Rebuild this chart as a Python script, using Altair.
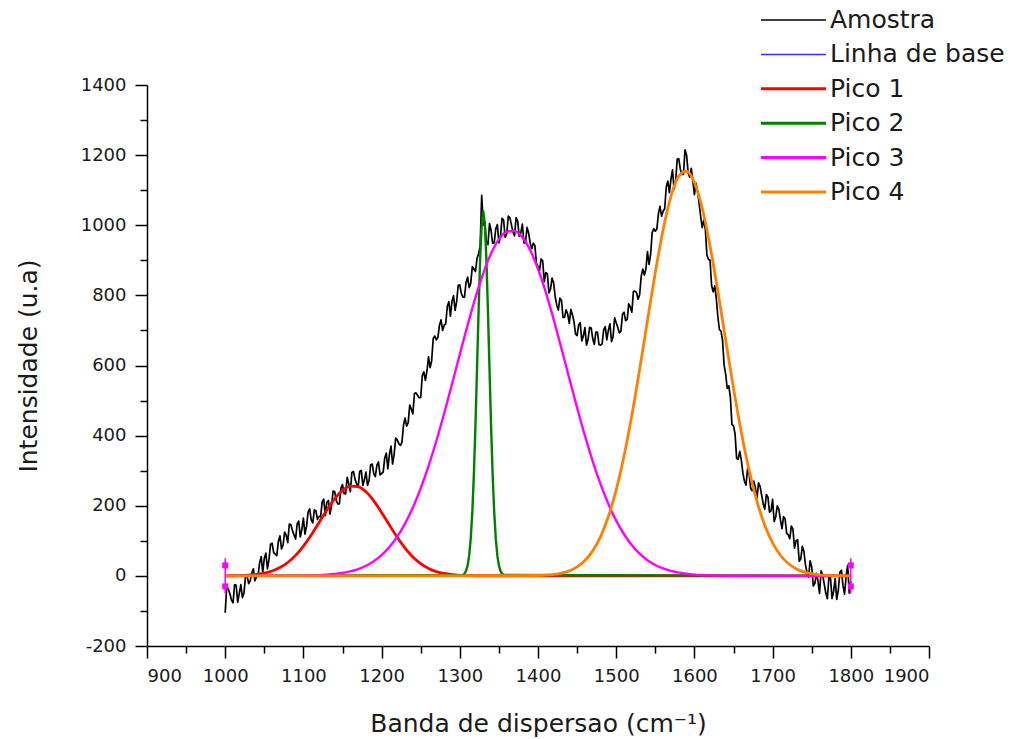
import altair as alt
import pandas as pd

# ---------------------------------------------------------------------------
# Raman spectrum (Amostra), 1000-1800 cm-1
# readings at 1000, 1004, ... and the interleaved ones at 1002, 1006, ...
# ---------------------------------------------------------------------------
wavenumber_a = list(range(1000, 1801, 4))
amostra_a = [
    -105, -38, -69, -25, -75, -25, -49, 0, -14, 20,
    -3, 37, 10, 65, 47, 93, 62, 99, 77, 125,
    95, 146, 117, 148, 111, 165, 141, 191, 151, 185,
    170, 211, 172, 215, 201, 240, 205, 250, 235, 281,
    240, 298, 263, 298, 258, 296, 272, 319, 283, 325,
    292, 336, 305, 370, 346, 388, 372, 430, 427, 487,
    462, 522, 508, 571, 558, 625, 613, 684, 680, 730,
    715, 768, 741, 799, 783, 830, 795, 837, 822, 882,
    868, 918, 1085, 1010, 945, 985, 950, 1002, 968, 1015,
    975, 1022, 981, 1022, 968, 1003, 950, 978, 933, 942,
    882, 904, 839, 861, 818, 835, 772, 792, 737, 759,
    720, 745, 690, 716, 670, 708, 674, 707, 660, 695,
    658, 702, 673, 719, 682, 722, 693, 746, 728, 776,
    752, 812, 789, 855, 858, 925, 916, 990, 989, 1054,
    1040, 1109, 1093, 1158, 1124, 1190, 1145, 1215, 1150, 1162,
    1087, 1097, 1025, 1015, 915, 900, 810, 791, 702, 672,
    575, 542, 432, 405, 333, 330, 270, 305, 249, 270,
    220, 255, 205, 232, 182, 218, 168, 190, 135, 162,
    117, 142, 79, 103, 48, 70, 9, 43, -29, 7,
    -50, 3, -49, -5, -65, -8, -41, 16, -52, 30,
    -15,
]
wavenumber_b = list(range(1002, 1800, 4))
amostra_b = [
    -29, -51, -77, -27, -50, -62, 0, -22, 8, -14,
    0, 55, 50, 20, 90, 66, 58, 114, 88, 116,
    148, 129, 105, 156, 132, 119, 182, 160, 188, 161,
    168, 219, 210, 176, 242, 215, 205, 260, 234, 263,
    295, 276, 252, 301, 274, 258, 317, 291, 316, 288,
    296, 350, 346, 319, 393, 377, 381, 450, 437, 476,
    520, 515, 508, 582, 584, 594, 677, 673, 715, 700,
    719, 782, 783, 757, 829, 805, 795, 852, 835, 875,
    905, 940, 1000, 950, 1005, 948, 990, 950, 1020, 965,
    1026, 1001, 970, 1012, 978, 950, 994, 949, 949, 891,
    871, 898, 865, 807, 849, 796, 758, 786, 738, 746,
    760, 725, 685, 722, 684, 658, 709, 676, 695, 660,
    662, 711, 701, 668, 736, 709, 697, 752, 731, 767,
    811, 808, 802, 875, 875, 888, 979, 983, 1033, 1026,
    1047, 1126, 1131, 1103, 1188, 1160, 1145, 1200, 1137, 1127,
    1120, 1063, 993, 988, 903, 828, 827, 739, 698, 601,
    535, 510, 428, 335, 355, 293, 259, 291, 243, 251,
    265, 230, 190, 225, 185, 155, 200, 160, 169, 121,
    106, 133, 100, 42, 84, 32, -4, 26, -22, -14,
    14, -23, -65, -5, -44, -67, 10, -28, -1, -49,
]

# Baseline (Linha de base)
base_x = [1000, 1800]
base_y = [0, 0]

# Fitted peaks
pico1_x = list(range(1000, 1321, 10)) + [1800]
pico1_y = [
    0.2, 0.4, 0.9, 2.0, 4.0, 7.7, 13.8, 23.6, 38.1, 58.5,
    84.9, 116.8, 152.3, 188.0, 219.9, 243.7, 255.9, 254.5, 239.8, 214.0,
    181.0, 145.0, 110.0, 79.1, 53.9, 34.8, 21.3, 12.3, 6.8, 3.5,
    1.7, 0.8, 0.4, 0.0,
]

pico2_x = [1000] + list(range(1304, 1357, 2)) + [1800]
pico2_y = [
    0.0,
    2.5, 6.2, 14.1, 29.7, 58.3, 106.8, 182.0, 289.0, 427.6, 588.7,
    755.0, 902.0, 1003.6, 1040.0, 1003.6, 902.0, 755.0, 588.7, 427.6, 289.0,
    182.0, 106.8, 58.3, 29.7, 14.1, 6.2, 2.5,
    0.0,
]

pico3_x = [1000] + list(range(1100, 1661, 10)) + [1800]
pico3_y = [
    0.0,
    0.7, 1.2, 2.0, 3.4, 5.4, 8.4, 13.0, 19.5, 28.9, 41.8,
    59.2, 82.2, 111.9, 149.2, 194.9, 249.5, 312.9, 384.6, 463.0, 546.4,
    631.6, 715.2, 793.7, 863.0, 919.3, 959.6, 981.4, 983.4, 965.5, 928.8,
    875.5, 808.4, 731.5, 648.5, 563.3, 479.5, 399.8, 326.7, 261.5, 205.2,
    157.6, 118.7, 87.6, 63.3, 44.8, 31.1, 21.2, 14.1, 9.2, 5.9,
    3.7, 2.3, 1.4, 0.8, 0.5, 0.3, 0.2,
    0.0,
]

pico4_x = [1000] + list(range(1400, 1801, 10))
pico4_y = [
    0.0,
    1.0, 2.0, 4.1, 7.8, 14.4, 25.6, 43.6, 71.3, 112.0, 169.2,
    245.4, 342.1, 458.1, 589.4, 728.6, 865.3, 987.4, 1082.6, 1140.3, 1154.0,
    1122.2, 1048.4, 941.1, 811.6, 672.6, 535.5, 409.6, 301.0, 212.5, 144.2,
    94.0, 58.8, 35.4, 20.5, 11.4, 6.1, 3.1, 1.5, 0.7, 0.3,
    0.1,
]

# Baseline anchor points with their error bars
anchor_x = [1000, 1800]
anchor_lo = [-50, -50]
anchor_hi = [50, 50]
anchor_pts = [-30, 30]

# Legend entries
series_names = ["Amostra", "Linha de base", "Pico 1", "Pico 2", "Pico 3", "Pico 4"]
series_colors = ["#000000", "#3333ff", "#ff0000", "#008000", "#ff00ff", "#ff8000"]
series_widths = [1.7, 1.5, 3.0, 3.0, 3.0, 3.0]

FONT = "DejaVu Sans"
TEXT_COLOR = "#1a1a1a"

x_scale = alt.Scale(domain=[900, 1900], nice=False, zero=False)
y_scale = alt.Scale(domain=[-200, 1400], nice=False, zero=False)

axis_common = dict(
    grid=False,
    domainColor="#000000",
    domainWidth=1.5,
    tickColor="#000000",
    tickWidth=1.5,
    labelFont=FONT,
    labelFontSize=18,
    labelColor=TEXT_COLOR,
    titleFont=FONT,
    titleFontSize=25,
    titleFontWeight="normal",
    titleColor=TEXT_COLOR,
)

x_axis_major = alt.Axis(
    orient="bottom",
    values=list(range(900, 1901, 100)),
    tickSize=12,
    labelPadding=9,
    labelExpr="'' + datum.value",
    title="Banda de dispersao (cm⁻¹)",
    titleY=85,
    titleBaseline="alphabetic",
    **axis_common,
)
x_axis_minor = alt.Axis(
    orient="bottom",
    values=list(range(950, 1900, 100)),
    tickSize=7,
    labels=False,
    domain=False,
    title=None,
    grid=False,
    tickColor="#000000",
    tickWidth=1.5,
)
y_axis_major = alt.Axis(
    orient="left",
    values=list(range(-200, 1401, 200)),
    tickSize=12,
    labelPadding=9,
    labelExpr="'' + datum.value",
    title="Intensidade (u.a)",
    titleX=-119,
    titleBaseline="middle",
    **axis_common,
)
y_axis_minor = alt.Axis(
    orient="left",
    values=list(range(-100, 1400, 200)),
    tickSize=7,
    labels=False,
    domain=False,
    title=None,
    grid=False,
    tickColor="#000000",
    tickWidth=1.5,
)


def line_layer(xs, ys, color, width, interp="linear", xaxis=None, yaxis=None):
    frame = pd.DataFrame({"x": xs, "y": ys})
    return alt.Chart(frame).mark_line(
        color=color, strokeWidth=width, interpolate=interp, strokeJoin="round"
    ).encode(
        x=alt.X("x:Q", scale=x_scale, axis=xaxis),
        y=alt.Y("y:Q", scale=y_scale, axis=yaxis),
    )


amostra_layer = line_layer(
    wavenumber_a + wavenumber_b, amostra_a + amostra_b, series_colors[0], 1.7,
    xaxis=x_axis_major, yaxis=y_axis_major,
)
base_layer = line_layer(base_x, base_y, series_colors[1], 1.4,
                        xaxis=x_axis_minor, yaxis=y_axis_minor)
pico1_layer = line_layer(pico1_x, pico1_y, series_colors[2], 2.8, "monotone")
pico2_layer = line_layer(pico2_x, pico2_y, series_colors[3], 2.4, "linear")
pico3_layer = line_layer(pico3_x, pico3_y, series_colors[4], 2.4, "monotone")
pico4_layer = line_layer(pico4_x, pico4_y, series_colors[5], 2.8, "monotone")

anchors = pd.DataFrame({"x": anchor_x, "lo": anchor_lo, "hi": anchor_hi})
anchor_bars = alt.Chart(anchors).mark_rule(color="#ff00ff", strokeWidth=1.5).encode(
    x=alt.X("x:Q", scale=x_scale, axis=None),
    y=alt.Y("lo:Q", scale=y_scale, axis=None),
    y2="hi:Q",
)
anchor_marks = pd.DataFrame(
    {"x": [ax for ax in anchor_x for _ in anchor_pts],
     "y": [ay for _ in anchor_x for ay in anchor_pts]}
)
anchor_squares = alt.Chart(anchor_marks).mark_square(
    color="#ff00ff", size=36, opacity=1
).encode(
    x=alt.X("x:Q", scale=x_scale, axis=None),
    y=alt.Y("y:Q", scale=y_scale, axis=None),
)

# Legend in the top-right corner, above the plot frame
legend_df = pd.DataFrame({
    "serie": series_names,
    "row": list(range(len(series_names))),
    "w": series_widths,
})
legend_y = alt.Y("row:Q", scale=alt.Scale(domain=[0, 5], range=[-65, 107]), axis=None)
legend_color = alt.Color(
    "serie:N", scale=alt.Scale(domain=series_names, range=series_colors), legend=None
)
legend_lines = alt.Chart(legend_df).mark_rule().encode(
    x=alt.value(614),
    x2=alt.value(679),
    y=legend_y,
    color=legend_color,
    strokeWidth=alt.StrokeWidth("w:Q", scale=None, legend=None),
)
legend_text = alt.Chart(legend_df).mark_text(
    align="left", baseline="middle", font=FONT, fontSize=25, color=TEXT_COLOR
).encode(
    x=alt.value(683),
    y=legend_y,
    text="serie:N",
)

chart = alt.layer(
    amostra_layer,
    base_layer,
    pico1_layer,
    pico2_layer,
    pico3_layer,
    pico4_layer,
    anchor_bars,
    anchor_squares,
    legend_lines,
    legend_text,
).resolve_scale(
    y="independent", color="independent"
).resolve_axis(
    x="independent", y="independent"
).properties(
    width=782,
    height=561,
    autosize=alt.AutoSizeParams(type="none"),
    padding={"left": 147, "top": 85, "right": 84, "bottom": 93},
    background="white",
).configure_view(
    stroke=None
)

chart.save("out.html", embed_options={"renderer": "svg", "actions": False})
